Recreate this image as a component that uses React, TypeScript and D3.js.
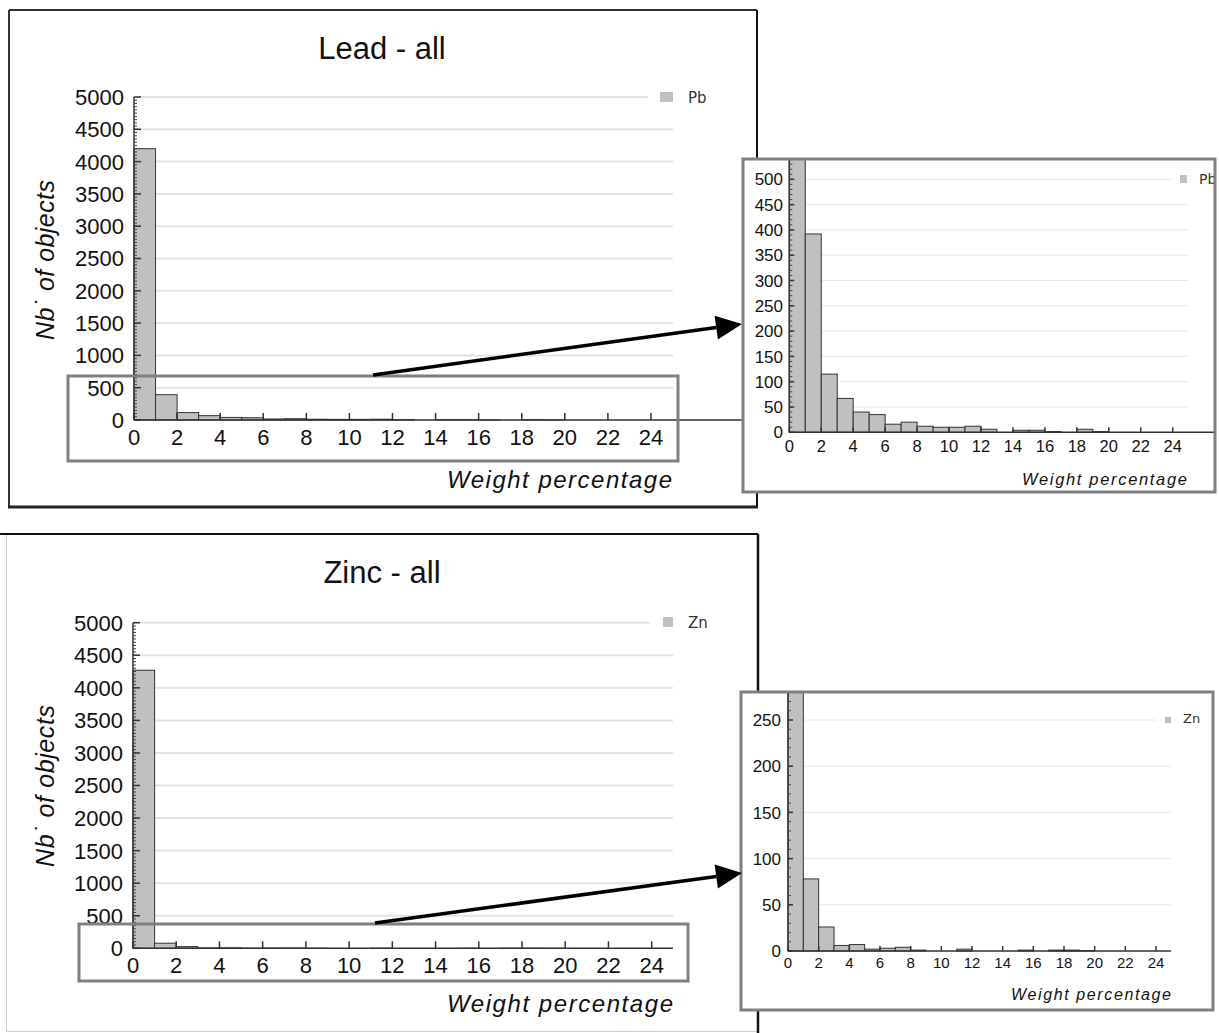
import React from 'react';
import * as d3 from 'd3';

// ---------- DATA ----------
const binStarts = [0, 1, 2, 3, 4, 5, 6, 7, 8, 9, 10, 11, 12, 13, 14, 15, 16, 17, 18, 19, 20, 21, 22, 23, 24];
const leadCounts = [4200, 392, 115, 67, 40, 35, 16, 20, 12, 10, 10, 12, 6, 0, 4, 4, 1.5, 0, 6, 1.5, 0, 0, 0, 0, 0];
const zincCounts = [4270, 78, 26, 6, 7, 2, 3, 4, 1, 0, 0, 2, 0, 0, 0, 1, 0, 1, 1, 0.5, 0, 0, 0, 0, 0];
const xTickValues = [0, 2, 4, 6, 8, 10, 12, 14, 16, 18, 20, 22, 24];
const mainYTicks = [0, 500, 1000, 1500, 2000, 2500, 3000, 3500, 4000, 4500, 5000];
const leadInsetYTicks = [0, 50, 100, 150, 200, 250, 300, 350, 400, 450, 500];
const zincInsetYTicks = [0, 50, 100, 150, 200, 250];
const titles = ['Lead - all', 'Zinc - all'];
const seriesNames = ['Pb', 'Zn'];
const xTitle = 'Weight percentage';
const yTitle = 'Nb˙ of objects';

const FONT = "'Liberation Sans', Arial, sans-serif";

type Cfg = {
  xRange: [number, number];
  yDomain: [number, number];
  yRange: [number, number];
  yTicks: number[];
  minorStep: number;
  gridEnd: number;
  topGridEnd: number;
  axisEnd: number;
  axisTop: number;
  yLabelX: number;
  yFont: number;
  xFont: number;
  xLabelDy: number;
  majorTick: number;
  minorTick: number;
  legend: { sx: number; sy: number; sw: number; sh: number; tx: number; ty: number; fs: number };
  xt: { xEnd: number; y: number; fs: number; len: number };
  gridColor: string;
  gridWidth: number;
  clip?: string;
};

function Hist({ counts, name, cfg }: { counts: number[]; name: string; cfg: Cfg }) {
  const x = d3.scaleLinear().domain([0, 24]).range(cfg.xRange);
  const y = d3.scaleLinear().domain(cfg.yDomain).range(cfg.yRange);
  const yMax = cfg.yTicks[cfg.yTicks.length - 1];
  const topVal = y.invert(cfg.axisTop);
  const minor = d3.range(0, topVal, cfg.minorStep);
  const x0 = x(0);
  const y0 = y(0);
  return (
    <g clipPath={cfg.clip ? `url(#${cfg.clip})` : undefined}>
      {cfg.yTicks.filter((t) => t > 0).map((t) => (
        <line key={'g' + t} x1={x0} x2={t === yMax ? cfg.topGridEnd : cfg.gridEnd} y1={y(t)} y2={y(t)}
          stroke={cfg.gridColor} strokeWidth={cfg.gridWidth} />
      ))}
      {counts.map((c, i) => c > 0 ? (
        <rect key={'b' + i} x={x(binStarts[i])} y={y(c)} width={x(binStarts[i] + 1) - x(binStarts[i])}
          height={y0 - y(c)} fill="#c0c0c0" stroke="#333" strokeWidth={1} />
      ) : null)}
      {/* y axis */}
      <line x1={x0} x2={x0} y1={y0} y2={cfg.axisTop} stroke="#333" strokeWidth={1.5} />
      {minor.map((m) => (
        <line key={'m' + m} x1={x0} x2={x0 + cfg.minorTick} y1={y(m)} y2={y(m)} stroke="#444" strokeWidth={1} />
      ))}
      {cfg.yTicks.map((t) => (
        <g key={'yt' + t}>
          <line x1={x0} x2={x0 + cfg.majorTick} y1={y(t)} y2={y(t)} stroke="#333" strokeWidth={1.5} />
          <text x={cfg.yLabelX} y={y(t)} dy="0.36em" textAnchor="end" fontFamily={FONT} fontSize={cfg.yFont} fill="#111">{t}</text>
        </g>
      ))}
      {/* x axis */}
      <line x1={x0} x2={cfg.axisEnd} y1={y0} y2={y0} stroke="#333" strokeWidth={1.5} />
      {xTickValues.map((t) => (
        <g key={'xt' + t}>
          <line x1={x(t)} x2={x(t)} y1={y0} y2={y0 - cfg.majorTick} stroke="#333" strokeWidth={1.5} />
          <text x={x(t)} y={y0 + cfg.xLabelDy} textAnchor="middle" fontFamily={FONT} fontSize={cfg.xFont} fill="#111">{t}</text>
        </g>
      ))}
      {/* legend */}
      <rect x={cfg.legend.sx} y={cfg.legend.sy} width={cfg.legend.sw} height={cfg.legend.sh} fill="#c0c0c0" />
      <text x={cfg.legend.tx} y={cfg.legend.ty} fontFamily="'DejaVu Sans', sans-serif" fontSize={cfg.legend.fs} fill="#333">{name}</text>
      {/* x title */}
      <text x={cfg.xt.xEnd - cfg.xt.len} y={cfg.xt.y} fontFamily={FONT} fontStyle="italic" fontSize={cfg.xt.fs}
        textLength={cfg.xt.len} lengthAdjust="spacing" fill="#111">{xTitle}</text>
    </g>
  );
}

function Arrow({ x1, y1, x2, y2 }: { x1: number; y1: number; x2: number; y2: number }) {
  const a = Math.atan2(y2 - y1, x2 - x1);
  const L = 26, W = 12;
  const bx = x2 - L * Math.cos(a), by = y2 - L * Math.sin(a);
  const p1 = [bx + W * Math.sin(a), by - W * Math.cos(a)];
  const p2 = [bx - W * Math.sin(a), by + W * Math.cos(a)];
  return (
    <g>
      <line x1={x1} y1={y1} x2={bx} y2={by} stroke="#000" strokeWidth={3.5} />
      <polygon points={`${x2},${y2} ${p1[0]},${p1[1]} ${p2[0]},${p2[1]}`} fill="#000" />
    </g>
  );
}

const leadMain: Cfg = {
  xRange: [134, 651], yDomain: [0, 5000], yRange: [420, 97], yTicks: mainYTicks, minorStep: 50,
  gridEnd: 673, topGridEnd: 648, axisEnd: 756, axisTop: 97, yLabelX: 124, yFont: 22, xFont: 22, xLabelDy: 25,
  majorTick: 7, minorTick: 3,
  legend: { sx: 660, sy: 92, sw: 13, sh: 10, tx: 688, ty: 103, fs: 15 },
  xt: { xEnd: 672, y: 488, fs: 24, len: 225 }, gridColor: '#e3e3e3', gridWidth: 2,
};
const leadInset: Cfg = {
  xRange: [789.3, 1172.7], yDomain: [0, 500], yRange: [432.3, 179.3], yTicks: leadInsetYTicks, minorStep: 10,
  gridEnd: 1188, topGridEnd: 1172, axisEnd: 1215, axisTop: 159, yLabelX: 783, yFont: 17, xFont: 16.5, xLabelDy: 20,
  majorTick: 5, minorTick: 3,
  legend: { sx: 1180, sy: 175, sw: 7, sh: 8, tx: 1199, ty: 184, fs: 14 },
  xt: { xEnd: 1187, y: 485, fs: 16.5, len: 165 }, gridColor: '#e6e6e6', gridWidth: 1, clip: 'clipLead',
};
const zincMain: Cfg = {
  xRange: [133, 651.7], yDomain: [0, 5000], yRange: [948.3, 622.7], yTicks: mainYTicks, minorStep: 50,
  gridEnd: 673, topGridEnd: 650, axisEnd: 673, axisTop: 622.7, yLabelX: 123, yFont: 22, xFont: 22, xLabelDy: 25,
  majorTick: 7, minorTick: 3,
  legend: { sx: 663, sy: 617, sw: 10, sh: 10, tx: 688, ty: 628, fs: 15 },
  xt: { xEnd: 673, y: 1012, fs: 24, len: 226 }, gridColor: '#e3e3e3', gridWidth: 2,
};
const zincInset: Cfg = {
  xRange: [788, 1156], yDomain: [0, 250], yRange: [951, 720], yTicks: zincInsetYTicks, minorStep: 10,
  gridEnd: 1171, topGridEnd: 1156, axisEnd: 1171, axisTop: 692, yLabelX: 781, yFont: 17, xFont: 15, xLabelDy: 17,
  majorTick: 5, minorTick: 3,
  legend: { sx: 1165, sy: 717, sw: 6, sh: 6, tx: 1183, ty: 723, fs: 13 },
  xt: { xEnd: 1171, y: 1000, fs: 16, len: 160 }, gridColor: '#e6e6e6', gridWidth: 1, clip: 'clipZinc',
};

export default function App() {
  return (
    <svg width={1219} height={1033} style={{ position: 'absolute', left: 0, top: 0, background: '#fff' }}>
      <defs>
        <clipPath id="clipLead"><rect x={743} y={159} width={472} height={333} /></clipPath>
        <clipPath id="clipZinc"><rect x={741} y={692} width={472} height={318} /></clipPath>
      </defs>
      <rect x={0} y={0} width={1219} height={1033} fill="#fff" />
      {/* top panel frame */}
      <line x1={9} y1={10} x2={757} y2={10} stroke="#333" strokeWidth={2} />
      <line x1={9} y1={10} x2={9} y2={507} stroke="#333" strokeWidth={2} />
      <line x1={757} y1={10} x2={757} y2={508} stroke="#111" strokeWidth={2} />
      <line x1={8} y1={507} x2={758} y2={507} stroke="#222" strokeWidth={3} />
      {/* bottom panel frame */}
      <line x1={0} y1={534} x2={758} y2={534} stroke="#111" strokeWidth={2} />
      <line x1={6.5} y1={535} x2={6.5} y2={1031} stroke="#ccc" strokeWidth={1} />
      <line x1={6} y1={1031.5} x2={758} y2={1031.5} stroke="#ccc" strokeWidth={1} />
      <line x1={758} y1={534} x2={758} y2={1033} stroke="#111" strokeWidth={2.5} />

      {/* titles */}
      <text x={382} y={59} textAnchor="middle" fontFamily={FONT} fontSize={31} fill="#111">{titles[0]}</text>
      <text x={382} y={583} textAnchor="middle" fontFamily={FONT} fontSize={31} fill="#111">{titles[1]}</text>
      {/* y titles */}
      <text transform="translate(54,260) rotate(-90)" textAnchor="middle" fontFamily={FONT} fontStyle="italic" fontSize={25}
        textLength={160} lengthAdjust="spacing" fill="#111">{yTitle}</text>
      <text transform="translate(54,786) rotate(-90)" textAnchor="middle" fontFamily={FONT} fontStyle="italic" fontSize={25}
        textLength={162} lengthAdjust="spacing" fill="#111">{yTitle}</text>

      <Hist counts={leadCounts} name={seriesNames[0]} cfg={leadMain} />
      <Hist counts={zincCounts} name={seriesNames[1]} cfg={zincMain} />

      {/* zoom boxes */}
      <rect x={68} y={376} width={610} height={85} fill="none" stroke="#808080" strokeWidth={3} />
      <rect x={79} y={924} width={609} height={57} fill="none" stroke="#808080" strokeWidth={3} />

      {/* insets */}
      <rect x={743} y={159} width={472} height={333} fill="#fff" />
      <Hist counts={leadCounts} name={seriesNames[0]} cfg={leadInset} />
      <rect x={743} y={159} width={472} height={333} fill="none" stroke="#808080" strokeWidth={3} />

      <rect x={741} y={692} width={472} height={318} fill="#fff" />
      <Hist counts={zincCounts} name={seriesNames[1]} cfg={zincInset} />
      <rect x={741} y={692} width={472} height={318} fill="none" stroke="#808080" strokeWidth={3} />

      <Arrow x1={373} y1={375} x2={742} y2={324} />
      <Arrow x1={375} y1={923} x2={742} y2={873} />
    </svg>
  );
}
